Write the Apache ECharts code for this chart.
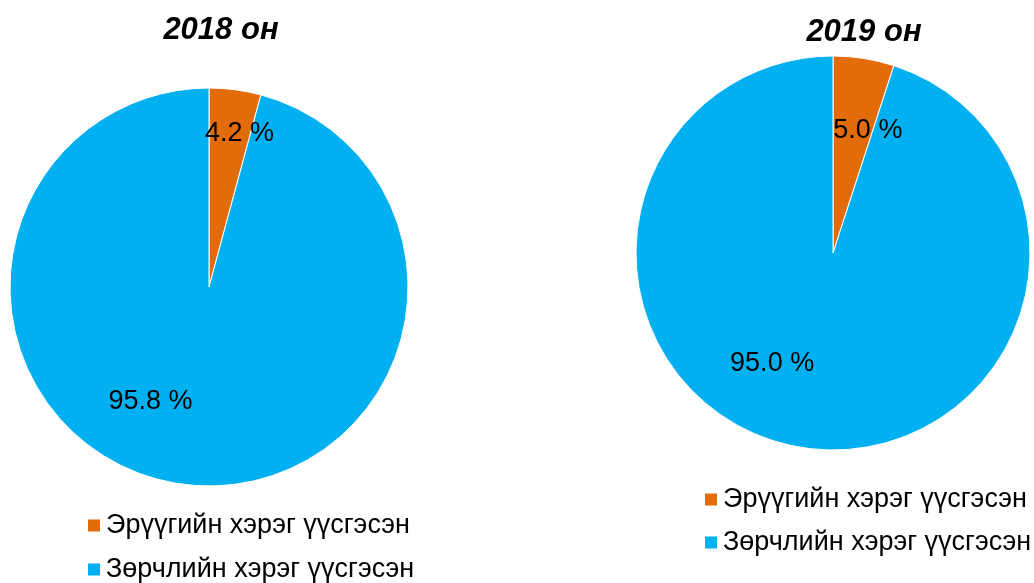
<!DOCTYPE html>
<html>
<head>
<meta charset="utf-8">
<script src="https://cdn.jsdelivr.net/npm/echarts@6/dist/echarts.min.js"></script>
<style>
  html, body { margin: 0; padding: 0; background: #fff; }
  #chart { width: 1034px; height: 583px; }
</style>
</head>
<body>
<div id="chart"></div>
<script>
// Share of offences by type, per year
const categories = ['Эрүүгийн хэрэг үүсгэсэн', 'Зөрчлийн хэрэг үүсгэсэн'];
const years = ['2018 он', '2019 он'];
const values2018 = [4.2, 95.8];
const values2019 = [5.0, 95.0];
const colors = ['#E36C0A', '#00B0F0'];

const font = 'Liberation Sans, Arial, sans-serif';

function pieData(values, offsets) {
  return categories.map((name, i) => ({
    name: name,
    value: values[i],
    itemStyle: { color: colors[i] },
    label: { offset: offsets[i] }
  }));
}

function pieSeries(values, center, radius, offsets) {
  return {
    type: 'pie',
    center: center,
    radius: radius,
    startAngle: 90,
    clockwise: true,
    avoidLabelOverlap: false,
    silent: true,
    itemStyle: { borderColor: '#ffffff', borderWidth: 1 },
    label: {
      show: true,
      position: 'inside',
      formatter: p => p.value.toFixed(1) + ' %',
      color: '#000',
      fontFamily: font,
      fontSize: 27
    },
    labelLine: { show: false },
    data: pieData(values, offsets)
  };
}

function legend(left, top, gap) {
  return {
    data: categories,
    orient: 'vertical',
    left: left,
    top: top,
    height: 120,
    padding: 0,
    icon: 'rect',
    itemWidth: 14,
    itemHeight: 14,
    itemGap: gap,
    selectedMode: false,
    textStyle: { fontFamily: font, fontSize: 27, color: '#000' }
  };
}

const titleStyle = { fontFamily: font, fontSize: 31, fontWeight: 'bold', fontStyle: 'italic', color: '#000' };

const chart = echarts.init(document.getElementById('chart'), null, { renderer: 'canvas' });
chart.setOption({
  animation: false,
  title: [
    { text: years[0], left: 221, top: 30, textAlign: 'center', textVerticalAlign: 'middle', padding: 0, textStyle: titleStyle },
    { text: years[1], left: 864, top: 32, textAlign: 'center', textVerticalAlign: 'middle', padding: 0, textStyle: titleStyle }
  ],
  legend: [legend(86, 512, 17), legend(703, 486, 16)],
  series: [
    pieSeries(values2018, [209, 287], 199, [[17, -52], [-45, 13]]),
    pieSeries(values2019, [833, 253], 197, [[19, -22], [-45, 10]])
  ]
});
</script>
</body>
</html>
